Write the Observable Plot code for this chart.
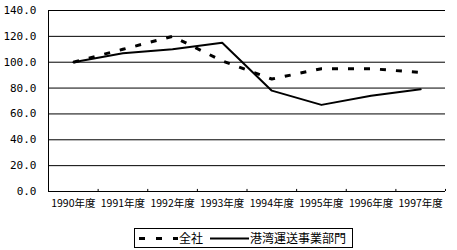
<!DOCTYPE html>
<html>
<head>
<meta charset="utf-8">
<script src="https://cdn.jsdelivr.net/npm/d3@7"></script>
<script src="https://cdn.jsdelivr.net/npm/@observablehq/plot@0.6"></script>
<style>
  html, body { margin: 0; padding: 0; background: #fff; }
  #chart { width: 457px; }
  #legend { position: relative; width: 457px; height: 30px; font-family: "Noto Sans CJK JP", sans-serif; font-size: 12px; color: #000; }
  #legend .box { position: absolute; left: 134px; top: 8px; width: 217px; height: 18px; border: 1px solid #000; box-sizing: content-box; }
</style>
</head>
<body>
<div id="chart"></div>
<script>
const categories = ["1990年度", "1991年度", "1992年度", "1993年度", "1994年度", "1995年度", "1996年度", "1997年度"];
const zensha = [100, 110, 120, 101, 87, 95, 95, 92];
const kowan = [100, 107, 110, 115, 78, 67, 74, 79];
const seriesNames = ["全社", "港湾運送事業部門"];
const yTicks = [0, 20, 40, 60, 80, 100, 120, 140];

const data = [];
categories.forEach((c, i) => {
  data.push({ series: seriesNames[0], x: i + 0.5, value: zensha[i] });
  data.push({ series: seriesNames[1], x: i + 0.5, value: kowan[i] });
});
const boundaries = d3.range(1, categories.length + 1);

const chart = Plot.plot({
  width: 457,
  height: 220,
  marginTop: 10,
  marginBottom: 29,
  marginLeft: 48,
  marginRight: 12,
  style: { fontFamily: "'Noto Sans CJK JP', sans-serif", fontSize: "10.5px", color: "#000", background: "#fff" },
  x: { type: "linear", domain: [0, categories.length], axis: null, label: null },
  y: { domain: [0, 140], axis: null, label: null },
  marks: [
    Plot.ruleY(yTicks, { stroke: "#000", strokeWidth: 1 }),
    Plot.ruleX([0], { stroke: "#000", strokeWidth: 1 }),
    Plot.ruleX(boundaries, { y1: 0, y2: 1.6, stroke: "#000", strokeWidth: 1 }),
    Plot.axisY(yTicks, {
      label: null, tickSize: 0, tickPadding: 12, tickFormat: d => d.toFixed(1),
      fontFamily: "'DejaVu Sans Mono', monospace", fontSize: 11
    }),
    Plot.axisX(categories.map((c, i) => i + 0.5), {
      label: null, tickSize: 0, tickPadding: 8, tickFormat: d => categories[Math.round(d - 0.5)]
    }),
    Plot.line(data.filter(d => d.series === seriesNames[0]), {
      x: "x", y: "value", stroke: "#000", strokeWidth: 3, strokeDasharray: "6,10", strokeLinecap: "butt"
    }),
    Plot.line(data.filter(d => d.series === seriesNames[1]), {
      x: "x", y: "value", stroke: "#000", strokeWidth: 2
    })
  ]
});
document.getElementById("chart").appendChild(chart);
</script>
<div id="legend">
  <div class="box">
    <svg width="217" height="18" style="position:absolute;left:0;top:0;overflow:visible">
      <line x1="4" x2="43" y1="9.5" y2="9.5" stroke="#000" stroke-width="3" stroke-dasharray="6,11"></line>
      <text x="44" y="14" font-size="12" font-family="Noto Sans CJK JP">全社</text>
      <line x1="75" x2="114" y1="9.5" y2="9.5" stroke="#000" stroke-width="2"></line>
      <text x="115" y="14" font-size="12" font-family="Noto Sans CJK JP">港湾運送事業部門</text>
    </svg>
  </div>
</div>
</body>
</html>
